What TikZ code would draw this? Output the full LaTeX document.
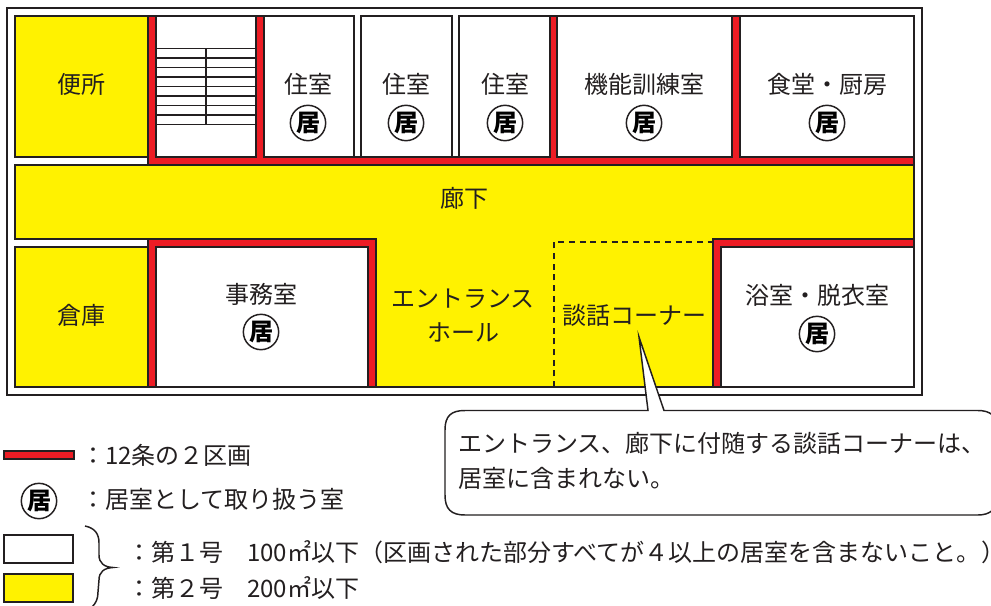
\documentclass[tikz,border=0pt]{standalone}
\usepackage{fontspec}
\setmainfont{Noto Sans CJK JP}
\definecolor{ink}{HTML}{231F20}
\definecolor{wallred}{HTML}{ED1C24}
\definecolor{roomyellow}{HTML}{FFF200}
\tikzset{
  room/.style={draw=ink,line width=1.5pt,fill=white},
  yroom/.style={draw=ink,line width=1.5pt,fill=roomyellow},
  wall/.style={draw=ink,line width=1.5pt,fill=wallred,line join=miter},
  stair/.style={draw=ink,line width=1.1pt},
  lbl/.style={inner sep=0pt,text=ink,yshift=-0.6pt,font=\fontsize{18}{20}\selectfont},
  lleft/.style={lbl,anchor=west},
  kyo/.style={circle,draw=ink,line width=1.1pt,minimum size=26.5pt,inner sep=0pt,text=black,font=\fontsize{18}{18}\bfseries\selectfont},
}
\begin{document}
\begin{tikzpicture}[x=0.75pt,y=-0.75pt]
\path[use as bounding box] (0,0) rectangle (991,606);
\clip (0,0) rectangle (991,606);
\fill[white] (0,0) rectangle (991,606);
% outer wall
\draw[draw=ink,line width=1.5pt] (7,8) rectangle (922,395);
% rooms upper row
\draw[yroom] (15,16) rectangle (148,157);
\draw[room] (156,16) rectangle (256,157);
\draw[room] (264,16) rectangle (354,157);
\draw[room] (361,16) rectangle (452,157);
\draw[room] (459,16) rectangle (550,157);
\draw[room] (557,16) rectangle (732,157);
\draw[room] (740,16) rectangle (914,157);
% corridor, hall
\draw[yroom] (15,165) -- (914,165) -- (914,239) -- (713,239) -- (713,387) -- (376,387) -- (376,239) -- (15,239) -- cycle;
% lower rooms
\draw[yroom] (15,247) rectangle (148,387);
\draw[room] (156,247) rectangle (368,387);
\draw[room] (721,247) rectangle (914,387);
% red walls
\draw[wall] (148,16) -- (156,16) -- (156,157) -- (256,157) -- (256,16) -- (264,16) -- (264,157)
  -- (550,157) -- (550,16) -- (557,16) -- (557,157) -- (732,157) -- (732,16) -- (740,16) -- (740,157)
  -- (914,157) -- (914,165) -- (148,165) -- cycle;
\draw[wall] (148,387) -- (148,239) -- (376,239) -- (376,387) -- (368,387) -- (368,247) -- (156,247) -- (156,387) -- cycle;
\draw[wall] (713,387) -- (713,239) -- (914,239) -- (914,247) -- (721,247) -- (721,387) -- cycle;
% stairs
\foreach \yy in {48.7,58.2,67.7,77.2,86.7,96.2,105.7,115.2,124.7}
  \draw[stair] (156,\yy) -- (256,\yy);
\draw[stair] (206,48.7) -- (206,124.7);
% dashed corner
\draw[draw=ink,line width=1.1pt,dash pattern=on 4.5pt off 3.5pt] (554,387) -- (554,242) -- (713,242);
% callout
\draw[draw=ink,line width=1.1pt,fill=white] (664,410.5) -- (978,410.5) .. controls (990,410.5) and (998,416) .. (998,430)
  -- (998,495) .. controls (998,509) and (990,515) .. (978,515) -- (465,515)
  .. controls (451,515) and (445,509) .. (445,495) -- (445,430)
  .. controls (445,416) and (451,410.5) .. (465,410.5) -- (648,410.5) -- (639,337) -- cycle;
% labels
\node[lbl] (benjo) at (81.5,84) {便所};
\node[lbl] (j1) at (308,84) {住室};
\node[lbl] (j2) at (406,84) {住室};
\node[lbl] (j3) at (505,84) {住室};
\node[lbl] (kino) at (644,84) {機能訓練室};
\node[lbl] (shoku) at (827,84) {食堂・厨房};
\node[kyo] (k1) at (308,123) {居};
\node[kyo] (k2) at (406,123) {居};
\node[kyo] (k3) at (505,123) {居};
\node[kyo] (k4) at (644,123) {居};
\node[kyo] (k5) at (827,123) {居};
\node[lbl] (roka) at (464,198) {廊下};
\node[lbl] (soko) at (81.5,315) {倉庫};
\node[lbl] (jimu) at (261,294) {事務室};
\node[kyo] (k6) at (261,332) {居};
\node[lbl] (ent1) at (463,298) {エントランス};
\node[lbl] (ent2) at (463,332) {ホール};
\node[lbl] (danwa) at (634,315) {談話コーナー};
\node[lbl] (yoku) at (817,295) {浴室・脱衣室};
\node[kyo] (k7) at (817,334) {居};
\node[lleft] (c1) at (458,443) {エントランス、廊下に付随する談話コーナーは、};
\node[lleft] (c2) at (458,478) {居室に含まれない。};
% legend
\draw[wall] (4,451) rectangle (74,459);
\node[lleft] (l1) at (81,455) {：12条の２区画};
\node[kyo] (k8) at (39,501) {居};
\node[lleft] (l2) at (81,499) {：居室として取り扱う室};
\draw[draw=ink,line width=1.5pt,fill=white] (4,535) rectangle (73,563);
\draw[draw=ink,line width=1.5pt,fill=roomyellow] (4,574) rectangle (73,602);
\draw[draw=ink,line width=1.1pt] (85,526) .. controls (95,528) and (99,534) .. (99,543) -- (99,555)
  .. controls (99,563) and (104,567) .. (113,567.5) .. controls (104,568) and (99,572) .. (99,580) -- (98,592)
  .. controls (98,599) and (96,603) .. (92,607);
\node[lleft] (l3) at (127,551) {：第１号　100㎡以下（区画された部分すべてが４以上の居室を含まないこと。};
\node[lleft,font=\fontsize{18}{20}\selectfont\addfontfeature{RawFeature=+halt}] (l3b) at (l3.east) {）};
\node[lleft] (l4) at (127,587) {：第２号　200㎡以下};
\end{tikzpicture}
\end{document}
